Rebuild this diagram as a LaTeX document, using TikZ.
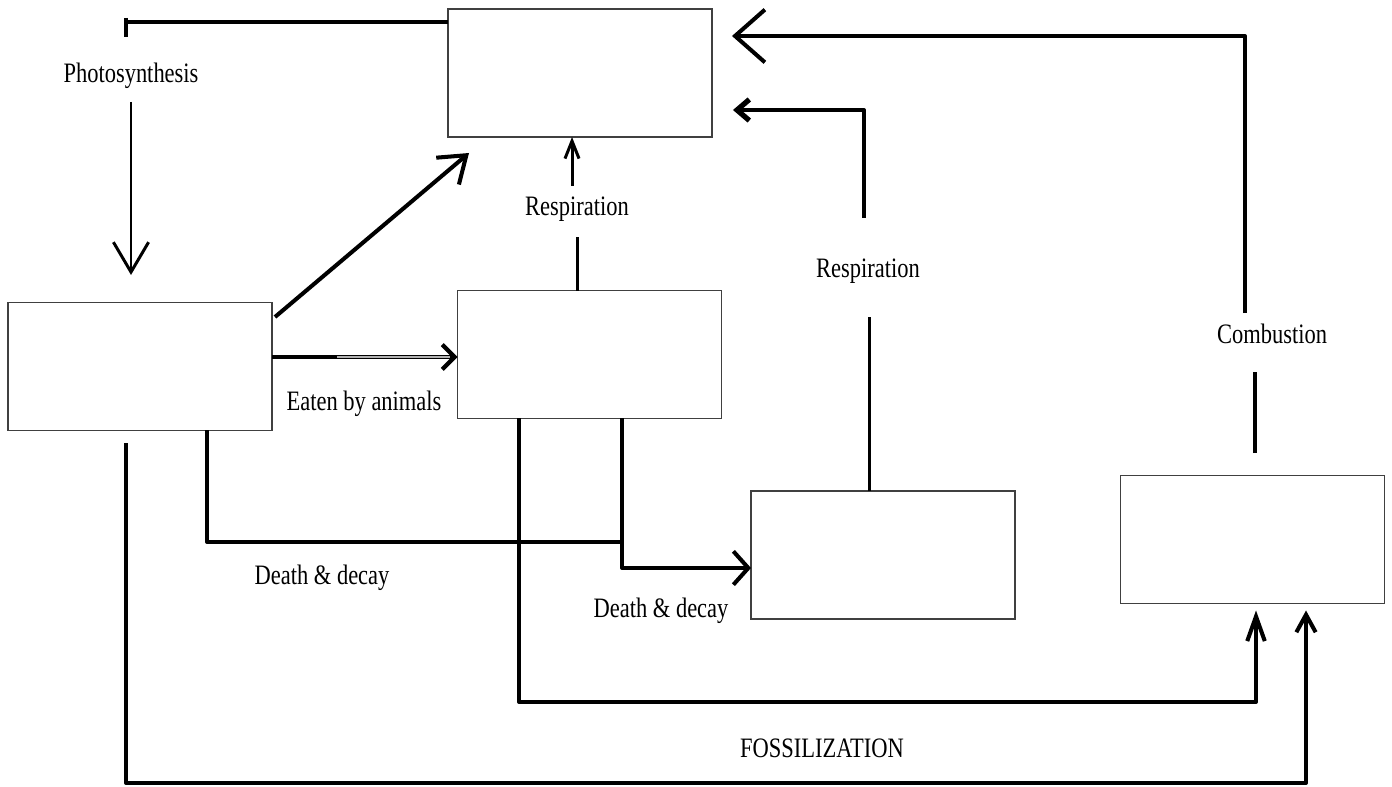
\documentclass[tikz,border=0pt]{standalone}
\usepackage{graphicx}
\usepackage{fontspec}
\setmainfont{Liberation Serif}
\usetikzlibrary{arrows.meta,calc}
\newcommand{\lbltxt}[1]{\scalebox{0.80}[1]{#1}}
\begin{document}
\begin{tikzpicture}[x=0.02cm,y=-0.02cm,
  box/.style={draw=black!75, line width=0.75pt, fill=white, minimum width=5.28cm, minimum height=2.56cm, inner sep=0pt, outer sep=0pt},
  lbl/.style={font=\fontsize{16}{19}\selectfont, inner sep=0pt},
  conn/.style={line width=2.3pt, line join=round},
  tconn/.style={line width=1.7pt, line join=round},
]
\useasboundingbox[fill=white] (0,0) rectangle (1392,787);

% boxes
\node[box] (A) at (580,73) {};
\node[box] (B) at (140,366.5) {};
\node[box] (C) at (589.5,354.5) {};
\node[box] (D) at (883,555) {};
\node[box] (E) at (1252.5,539.5) {};

% labels
\node[lbl] (ph) at (131,76) {\lbltxt{Photosynthesis}};
\node[lbl] (rc) at (577,209) {\lbltxt{Respiration}};
\node[lbl] (rd) at (868,271) {\lbltxt{Respiration}};
\node[lbl] (cb) at (1272,334) {\lbltxt{Combustion}};
\node[lbl] (ea) at (364,404) {\lbltxt{Eaten by animals}};
\node[lbl] (dl1) at (322,578) {\lbltxt{Death \& decay}};
\node[lbl] (dl2) at (661,611) {\lbltxt{Death \& decay}};
\node[lbl] (fo) at (822,748) {\lbltxt{FOSSILIZATION}};

% coordinates
\coordinate (phT) at (126,22);
\coordinate (p1) at (131,102);
\coordinate (p2) at (131,275);
\coordinate (d1) at (275,317);
\coordinate (d2) at (469,153);
\coordinate (e1) at (334,357);
\coordinate (rc1) at (572,186);
\coordinate (rc2) at (577,237);
\coordinate (rd1) at (864,218);
\coordinate (rdc) at (864,110);
\coordinate (rd3) at (869,317);
\coordinate (cb1) at (1245,313);
\coordinate (cbc) at (1245,36);
\coordinate (cb2) at (1255,372);
\coordinate (cb3) at (1255,453);
\coordinate (dd1) at (207,542);
\coordinate (dd2) at (622,542);
\coordinate (dd3) at (622,568);
\coordinate (f1) at (519,702);
\coordinate (f2) at (1256,702);
\coordinate (g0) at (126,443);
\coordinate (g1) at (126,783);
\coordinate (g2) at (1306,783);

% photosynthesis
\draw[conn] (A.west |- phT) -- (phT) ++(0,-4) -- ++(0,19);
\draw[tconn, -{Straight Barb[length=17pt,width=20pt]}] (p1) -- (p2);

% plants -> atmosphere
\draw[conn, -{Straight Barb[length=14pt,width=20pt]}] (d1) -- (d2);

% eaten by animals
\draw[conn] (B.east |- e1) -- (e1);
\draw[line width=2.7pt, -{Straight Barb[length=7pt,width=14pt,line width=2.4pt]}] (e1) -- (C.west |- e1);
\draw[line width=0.6pt, black!30] ($(e1)+(3,0)$) -- ($(C.west |- e1)+(-8,0)$);

% respiration from animals
\draw[tconn, -{Straight Barb[length=10pt,width=8pt]}] (rc1) -- (rc1 |- A.south);
\draw[tconn] (C.north -| rc2) -- (rc2);

% respiration from decomposers
\draw[tconn] (D.north -| rd3) -- (rd3);
\draw[conn, shorten >=0.42cm, -{Straight Barb[length=7pt,width=12pt,line width=3pt]}] (rd1) -- (rdc) -- (A.east |- rdc);

% combustion
\draw[conn] (cb3) -- (cb2);
\draw[conn, shorten >=0.40cm, -{Straight Barb[length=17pt,width=30pt]}] (cb1) -- (cbc) -- (A.east |- cbc);

% death & decay
\draw[conn] (B.south -| dd1) -- (dd1) -- (dd2);
\draw[conn, -{Straight Barb[length=8.5pt,width=19pt]}] (C.south -| dd2) -- (dd3) -- (D.west |- dd3);

% fossilization
\draw[conn, shorten >=0.14cm, -{Straight Barb[length=14pt,width=10pt]}] (C.south -| f1) -- (f1) -- (f2) -- (f2 |- E.south);
\draw[conn, shorten >=0.14cm, -{Straight Barb[length=10pt,width=11pt]}] (g0) -- (g1) -- (g2) -- (g2 |- E.south);
\end{tikzpicture}
\end{document}
